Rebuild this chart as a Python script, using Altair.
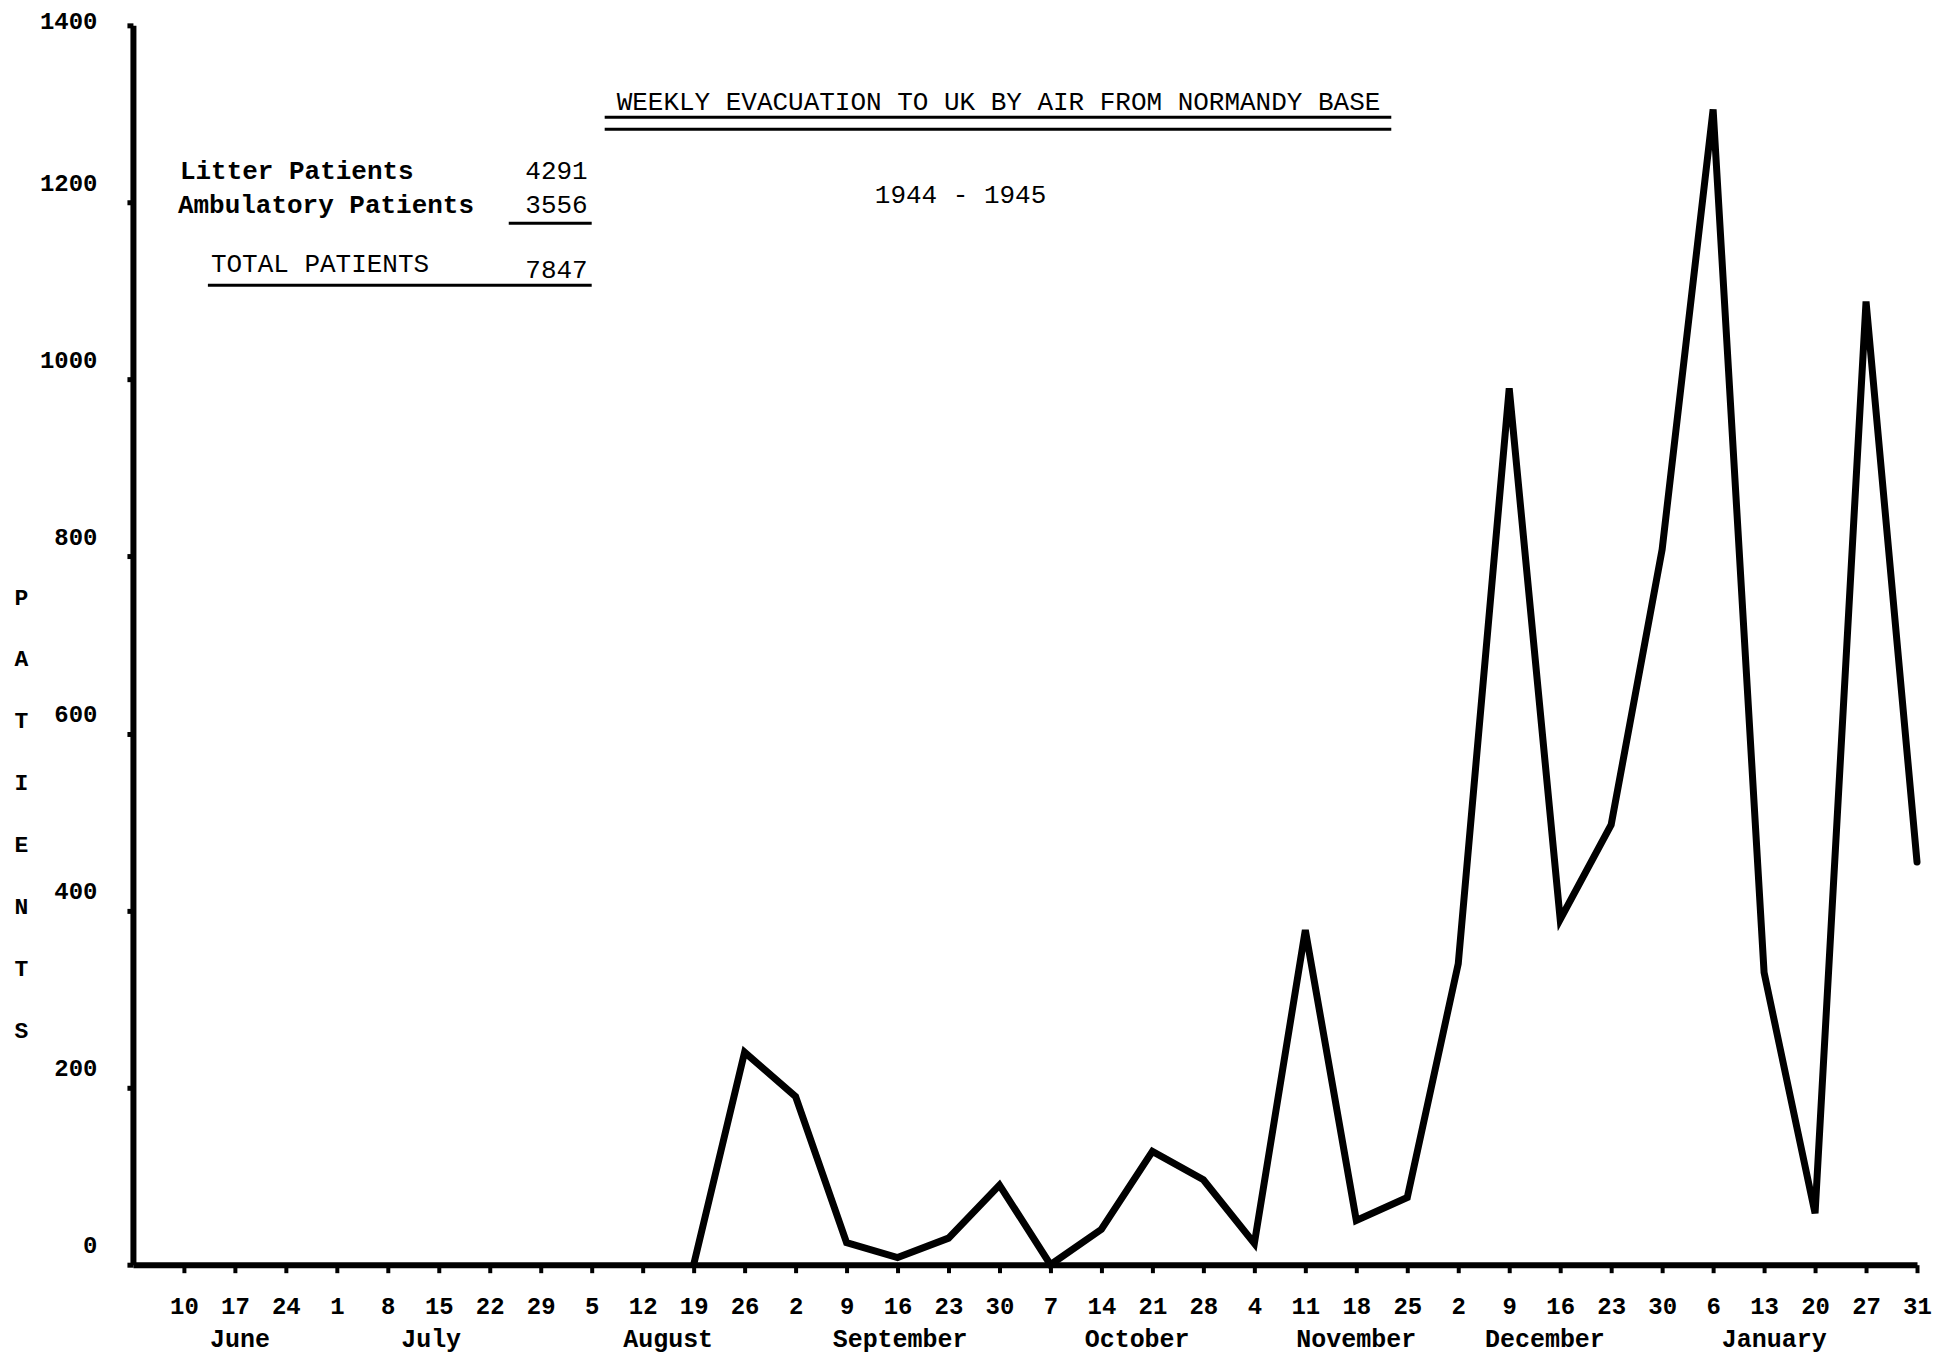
import altair as alt
import pandas as pd

FONT = "Liberation Mono"

# Week tick labels (June 1944 - January 1945)
day_labels = ["10", "17", "24", "1", "8", "15", "22", "29", "5", "12", "19", "26",
              "2", "9", "16", "23", "30", "7", "14", "21", "28", "4", "11", "18", "25",
              "2", "9", "16", "23", "30", "6", "13", "20", "27", "31"]
# Weekly patients evacuated (no line drawn before Aug 19)
patients = [None, None, None, None, None, None, None, None, None, None,
            0, 240, 190, 25, 8, 30, 90, 0, 40, 128, 96, 24, 378, 50, 76,
            340, 990, 390, 497, 808, 1305, 330, 58, 1088, 455]
months = ["June", "July", "August", "September", "October", "November", "December", "January"]
month_pos = [1.1, 4.85, 9.5, 14.05, 18.7, 23.0, 26.7, 31.2]
y_ticks = [0, 200, 400, 600, 800, 1000, 1200, 1400]

title_text = "WEEKLY EVACUATION TO UK BY AIR FROM NORMANDY BASE"
years_text = "1944 - 1945"
summary_labels = ["Litter Patients", "Ambulatory Patients"]
summary_values = ["4291", "3556"]
total_label = "TOTAL PATIENTS"
total_value = "7847"
axis_title = ["P", "A", "T", "I", "E", "N", "T", "S"]

W, H = 1785, 1240

df = pd.DataFrame({"idx": list(range(len(day_labels))), "patients": patients}).dropna()
mdf = pd.DataFrame({"month": months, "pos": month_pos})

x_scale = alt.Scale(domain=[-1, 34], nice=False, zero=False)
y_scale = alt.Scale(domain=[0, 1400], nice=False)

label_expr = "[" + ",".join("'%s'" % d for d in day_labels) + "][datum.value]"

line = alt.Chart(df).mark_line(
    color="black", strokeWidth=7, strokeJoin="miter", strokeCap="round"
).encode(
    x=alt.X("idx:Q", scale=x_scale,
            axis=alt.Axis(values=list(range(len(day_labels))), labelExpr=label_expr,
                          title=None, grid=False, domainColor="black", domainWidth=6,
                          tickColor="black", tickWidth=4, tickSize=8,
                          labelFont=FONT, labelFontSize=24, labelFontWeight="bold",
                          labelColor="black", labelPadding=22, labelFlush=False,
                          labelOverlap=False)),
    y=alt.Y("patients:Q", scale=y_scale,
            axis=alt.Axis(values=y_ticks, format="d", title=axis_title, titleAngle=0,
                          titleX=-112, titleY=572, titleAlign="center",
                          titleBaseline="middle", titleLineHeight=62, titleFont=FONT,
                          titleFontSize=23, titleFontWeight="bold", titleColor="black",
                          grid=False, domainColor="black", domainWidth=6,
                          tickColor="black", tickWidth=5, tickSize=6,
                          labelFont=FONT, labelFontSize=24, labelFontWeight="bold",
                          labelColor="black",
                          labelOffset={"condition": {"test": "datum.value == 1400", "value": -4},
                                       "value": -19},
                          labelPadding=30, labelFlush=False, labelOverlap=False)),
)

month_text = alt.Chart(mdf).mark_text(
    font=FONT, fontSize=25, fontWeight="bold", color="black", baseline="middle", align="center"
).encode(
    x=alt.X("pos:Q", scale=x_scale),
    y=alt.value(H + 74),
    text="month:N",
)


def txt(s, x, y, align="left", weight="normal", size=26):
    return alt.Chart(pd.DataFrame({"t": [s]})).mark_text(
        font=FONT, fontSize=size, fontWeight=weight, color="black",
        align=align, baseline="middle"
    ).encode(text="t:N", x=alt.value(x), y=alt.value(y))


def rule(x1, x2, y, w=3):
    return alt.Chart(pd.DataFrame({"a": [0]})).mark_rule(
        color="black", strokeWidth=w
    ).encode(x=alt.value(x1), x2=alt.value(x2), y=alt.value(y))


layers = [
    line,
    month_text,
    txt(title_text, 866, 77, align="center"),
    rule(472, 1259, 92),
    rule(472, 1259, 104),
    txt(years_text, 828, 170, align="center"),
    txt(summary_labels[0], 47, 146, weight="bold"),
    txt(summary_values[0], 455, 146, align="right"),
    txt(summary_labels[1], 45, 180, weight="bold"),
    txt(summary_values[1], 455, 180, align="right"),
    rule(376, 459, 198),
    txt(total_label, 78, 239),
    txt(total_value, 455, 245, align="right"),
    rule(75, 459, 260),
]

chart = alt.layer(*layers).properties(
    width=W, height=H,
    autosize=alt.AutoSizeParams(type="none"),
    padding={"left": 125, "top": 17, "right": 20, "bottom": 94},
    background="white",
).configure_view(stroke=None)

chart.save("out.html", embed_options={"renderer": "svg", "actions": False})
